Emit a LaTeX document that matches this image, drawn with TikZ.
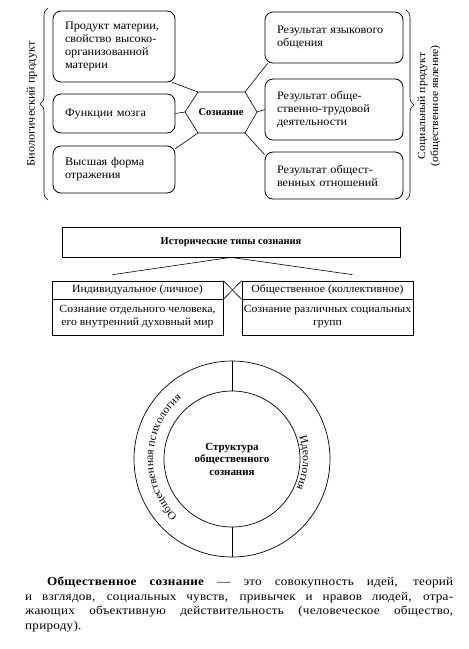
\documentclass[tikz,border=0pt]{standalone}
\usepackage{fontspec}
\setmainfont{Liberation Serif}
\newfontfamily\widefont{Liberation Serif}[FakeStretch=1.07]
\newfontfamily\parafont{Liberation Serif}[FakeStretch=1.1,LetterSpace=2]
\usepackage{tikz}
\usetikzlibrary{decorations.pathreplacing,decorations.text,calc}

\begin{document}
\begin{tikzpicture}[
  box/.style={draw, rounded corners=8bp, line width=0.8pt, align=left, inner xsep=12bp, font=\widefont\fontsize{11.5}{13}\selectfont},
  lbox/.style={box, text width=98bp},
  rbox/.style={box, text width=114bp},
  plainbox/.style={draw, line width=0.7pt, align=center, inner sep=2bp, font=\widefont\fontsize{11}{13}\selectfont},
  link/.style={line width=0.6pt}
]
\useasboundingbox (0bp,0bp) rectangle (469bp,-649bp);

\node (b1) at (114bp,-46.5bp)[lbox, minimum height=71bp] {Продукт материи,\\свойство высоко-\\организованной\\материи};
\node (b2) at (114bp,-113.5bp)[lbox, minimum height=39bp] {Функции мозга};
\node (b3) at (114bp,-169.5bp)[lbox, minimum height=47bp] {Высшая форма\\отражения};
\node (r1) at (334bp,-37.5bp)[rbox, minimum height=51bp] {Результат языкового\\общения};
\node (r2) at (334bp,-109.5bp)[rbox, minimum height=61bp] {Результат обще-\\ственно-трудовой\\деятельности};
\node (r3) at (334bp,-175.5bp)[rbox, minimum height=47bp] {Результат общест-\\венных отношений};

\coordinate (hl) at (185bp,-112bp);
\coordinate (htl) at (198bp,-92bp);
\coordinate (htr) at (245bp,-92bp);
\coordinate (hr) at (257bp,-112bp);
\coordinate (hbr) at (245bp,-133bp);
\coordinate (hbl) at (198bp,-133bp);
\draw [link] (hl) -- (htl) -- (htr) -- (hr) -- (hbr) -- (hbl) -- cycle;
\node (soz) at (221bp,-112bp)[font=\bfseries\fontsize{10.5}{12}\selectfont] {Сознание};

\draw [link] ([xshift=-3bp]b1.south east) -- (htl);
\draw [link] (b2.east) -- (hl);
\draw [link] ([yshift=-3bp]b3.north east) -- (hbl);
\draw [link] (htr) -- ([xshift=3bp]r1.south west);
\draw [link] (hr) -- (r2.west);
\draw [link] (hbr) -- ([yshift=-3bp]r3.north west);

\draw [link,decorate,decoration={brace,amplitude=8bp}] (48bp,-200bp) -- (48bp,-8bp);
\node (bio) at (32bp,-104bp)[rotate=90, font=\widefont\fontsize{11.5}{14}\selectfont] {Биологический продукт};
\draw [link,decorate,decoration={brace,amplitude=8bp}] (406bp,-10bp) -- (406bp,-200bp);
\node (soc) at (429bp,-106bp)[rotate=90, align=center, font=\widefont\fontsize{11}{13}\selectfont] {Социальный продукт\\(общественное явление)};

\node (hist) at (231bp,-242bp)[plainbox, minimum width=338bp, minimum height=30bp, font=\bfseries\fontsize{10.5}{12}\selectfont] {Исторические типы сознания};
\node (indh) at (137.5bp,-290bp)[plainbox, minimum width=171bp, minimum height=18bp] {Индивидуальное (личное)};
\node (indb) at (137.5bp,-317bp)[plainbox, minimum width=171bp, minimum height=36bp] {Сознание отдельного человека,\\его внутренний духовный мир};
\node (obsh) at (327.5bp,-290bp)[plainbox, minimum width=171bp, minimum height=18bp] {Общественное (коллективное)};
\node (obsb) at (327.5bp,-317bp)[plainbox, minimum width=171bp, minimum height=36bp] {Сознание различных социальных\\групп};
\draw [link] (hist.south) -- ([xshift=-25bp,yshift=6bp]indh.north);
\draw [link] (hist.south) -- ([xshift=25bp,yshift=6bp]obsh.north);
\draw [link] (indh.north east) -- (obsh.south west);
\draw [link] (indh.south east) -- (obsh.north west);

\node (ring) at (232bp,-459bp)[draw, circle, line width=0.7pt, minimum size=196bp] {};
\node (struct) at (232bp,-459bp)[draw, circle, line width=0.7pt, minimum size=136bp, align=center, font=\bfseries\fontsize{11}{12.5}\selectfont] {Структура\\общественного\\сознания};
\draw [link] (struct.north) -- (ring.north);
\draw [link] (struct.south) -- (ring.south);
\path [decorate,decoration={text along path,text align=center,text={|\widefont\fontsize{11}{12}\selectfont|Общественная психология}}] ($(ring.center)+(245:79bp)$) arc[start angle=245,end angle=111,radius=79bp];
\path [decorate,decoration={text along path,text align=center,text={|\widefont\fontsize{11}{12}\selectfont|Идеология}}] ($(ring.center)+(27:71bp)$) arc[start angle=27,end angle=-33,radius=71bp];

\node (defn) at (25bp,-577bp)[anchor=north west, inner sep=0pt, text width=428bp, align=justify, font=\parafont\fontsize{12}{14.5}\selectfont] {\hspace*{22bp}\textbf{Общественное сознание} — это совокупность идей, теорий\linebreak и взглядов, социальных чувств, привычек и нравов людей, отра-\linebreak жающих объективную действительность (человеческое общество,\linebreak природу).};
\end{tikzpicture}
\end{document}
